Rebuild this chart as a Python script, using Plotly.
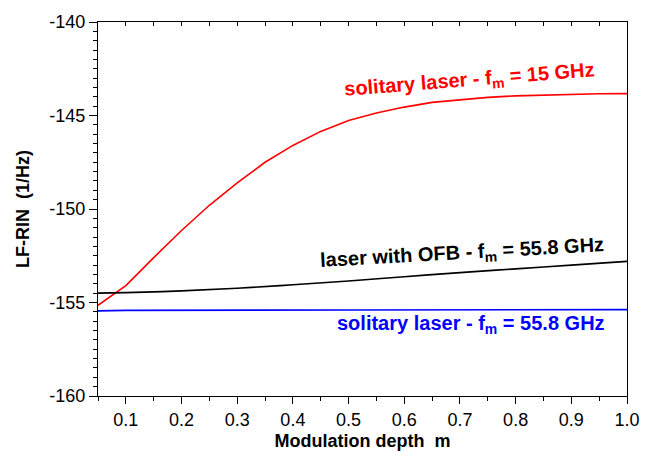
import plotly.graph_objects as go

m_red = [0.05, 0.10, 0.15, 0.20, 0.25, 0.30, 0.35, 0.40, 0.45, 0.50,
         0.55, 0.60, 0.65, 0.70, 0.75, 0.80, 0.85, 0.90, 0.95, 1.00]
rin_red = [-155.15, -154.1, -152.6, -151.15, -149.8, -148.6, -147.5, -146.6, -145.85, -145.27,
           -144.87, -144.55, -144.3, -144.15, -144.03, -143.95, -143.9, -143.86, -143.84, -143.83]

m_black = [0.05, 0.10, 0.20, 0.30, 0.40, 0.50, 0.60, 0.70, 0.80, 0.90, 1.00]
rin_black = [-154.5, -154.47, -154.38, -154.24, -154.05, -153.85, -153.62, -153.4, -153.2, -153.0, -152.8]

m_blue = [0.05, 0.10, 0.50, 1.00]
rin_blue = [-155.45, -155.42, -155.4, -155.38]

label_red = "solitary laser - f<sub>m</sub> = 15 GHz"
label_black = "laser with OFB - f<sub>m</sub> = 55.8 GHz"
label_blue = "solitary laser - f<sub>m</sub> = 55.8 GHz"

FONT = "Arial, Liberation Sans, sans-serif"

fig = go.Figure()
fig.add_trace(go.Scatter(x=m_red, y=rin_red, mode="lines",
                         line=dict(color="#ff0000", width=1.6), showlegend=False))
fig.add_trace(go.Scatter(x=m_black, y=rin_black, mode="lines",
                         line=dict(color="#000000", width=1.6, shape="spline"), showlegend=False))
fig.add_trace(go.Scatter(x=m_blue, y=rin_blue, mode="lines",
                         line=dict(color="#0000ff", width=1.6), showlegend=False))
# invisible trace for top axis
fig.add_trace(go.Scatter(x=[0.05], y=[-160], xaxis="x2", mode="markers",
                         marker=dict(opacity=0), showlegend=False, hoverinfo="skip"))

fig.update_layout(
    width=654, height=459,
    margin=dict(l=98, r=27, t=21, b=62),
    paper_bgcolor="white", plot_bgcolor="white",
    font=dict(family=FONT, color="black"),
    xaxis=dict(range=[0.05, 1.0], tickmode="array",
               tickvals=[0.1, 0.2, 0.3, 0.4, 0.5, 0.6, 0.7, 0.8, 0.9, 1.0],
               ticktext=["0.1", "0.2", "0.3", "0.4", "0.5", "0.6", "0.7", "0.8", "0.9", "1.0"],
               ticks="outside", ticklen=7, tickwidth=1, tickcolor="black",
               minor=dict(tickvals=[0.05, 0.15, 0.25, 0.35, 0.45, 0.55, 0.65, 0.75, 0.85, 0.95],
                          ticks="outside", ticklen=4, tickcolor="black"),
               showline=True, linecolor="black", linewidth=1.2, mirror=True,
               showgrid=False, zeroline=False,
               tickfont=dict(size=18, family=FONT),
               title=dict(text="<b>Modulation depth  m</b>", font=dict(size=18, family=FONT), standoff=5)),
    xaxis2=dict(range=[0.05, 1.0], overlaying="x", side="top",
                tickvals=[0.05, 0.1, 0.15, 0.2, 0.25, 0.3, 0.35, 0.4, 0.45, 0.5,
                          0.55, 0.6, 0.65, 0.7, 0.75, 0.8, 0.85, 0.9, 0.95, 1.0],
                ticks="inside", ticklen=4, tickcolor="black", showticklabels=False,
                showgrid=False, zeroline=False, showline=False),
    yaxis=dict(range=[-160, -140], tickvals=[-160, -155, -150, -145, -140],
               ticktext=["-160", "-155", "-150", "-145", "-140"],
               ticks="outside", ticklen=8, tickwidth=1, tickcolor="black",
               minor=dict(dtick=0.5, ticks="outside", ticklen=4, tickcolor="black"),
               showline=True, linecolor="black", linewidth=1.2, mirror=True,
               showgrid=False, zeroline=False,
               tickfont=dict(size=18, family=FONT),
               title=dict(text="<b>LF-RIN  (1/Hz)</b>", font=dict(size=18, family=FONT), standoff=14)),
    annotations=[
        dict(x=0.718, y=-143.15, xref="x", yref="y", text="<b>" + label_red + "</b>",
             showarrow=False, textangle=-4.5, font=dict(size=20, color="#ff0000", family=FONT)),
        dict(x=0.704, y=-152.36, xref="x", yref="y", text="<b>" + label_black + "</b>",
             showarrow=False, textangle=-3.2, font=dict(size=20, color="#000000", family=FONT)),
        dict(x=0.72, y=-156.19, xref="x", yref="y", text="<b>" + label_blue + "</b>",
             showarrow=False, textangle=0, font=dict(size=20, color="#0000ff", family=FONT)),
    ],
)

fig.write_html("out.html")
